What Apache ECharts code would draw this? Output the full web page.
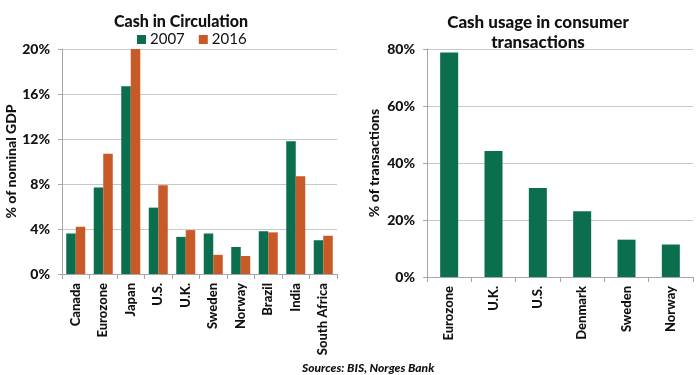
<!DOCTYPE html>
<html>
<head>
<meta charset="utf-8">
<script src="https://cdn.jsdelivr.net/npm/echarts@6/dist/echarts.min.js"></script>
<style>
  html, body { margin: 0; padding: 0; background: #fff; }
  #chart { width: 700px; height: 375px; }
</style>
</head>
<body>
<div id="chart"></div>
<script>
// left panel: cash in circulation, % of nominal GDP
const circCategories = ['Canada', 'Eurozone', 'Japan', 'U.S.', 'U.K.', 'Sweden', 'Norway', 'Brazil', 'India', 'South Africa'];
const circ2007 = [3.6, 7.7, 16.7, 5.9, 3.3, 3.6, 2.4, 3.8, 11.8, 3.0];
const circ2016 = [4.2, 10.7, 20.0, 7.9, 3.9, 1.7, 1.6, 3.7, 8.7, 3.4];
const circTicks = [0, 4, 8, 12, 16, 20];

// right panel: cash share of consumer transactions
const usageCategories = ['Eurozone', 'U.K.', 'U.S.', 'Denmark', 'Sweden', 'Norway'];
const usageValues = [78.8, 44.2, 31.2, 23.1, 13.1, 11.4];
const usageTicks = [0, 20, 40, 60, 80];

const GREEN = '#0b6e4f';
const ORANGE = '#c85a27';
const FONT = 'Lato';
const HEAVY = 900;

const chart = echarts.init(document.getElementById('chart'));

const axisLbl = { color: '#111', fontWeight: HEAVY, fontFamily: FONT };

const option = {
    animation: false,
    textStyle: { fontFamily: FONT },
    title: [
        {
            text: 'Cash in Circulation',
            left: 176, top: 9, textAlign: 'center',
            textStyle: { fontSize: 16, fontWeight: HEAVY, color: '#111', fontFamily: FONT }
        },
        {
            text: 'Cash usage in consumer\ntransactions',
            left: 533, top: 8, textAlign: 'center',
            textStyle: { fontSize: 17, fontWeight: HEAVY, color: '#111', fontFamily: FONT, lineHeight: 20 }
        },
        {
            text: 'Sources: BIS, Norges Bank',
            left: 297, top: 357,
            textStyle: { fontSize: 12, fontWeight: HEAVY, fontStyle: 'italic', color: '#111', fontFamily: FONT }
        }
    ],
    legend: {
        data: ['2007', '2016'],
        left: 132, top: 27,
        icon: 'rect', itemWidth: 9, itemHeight: 9, itemGap: 14,
        textStyle: { fontSize: 15, color: '#111', fontFamily: FONT, padding: [0, 0, 0, -1] }
    },
    grid: [
        { left: 62, right: 363, top: 49, bottom: 101 },
        { left: 427, right: 7, top: 49, bottom: 98 }
    ],
    xAxis: [
        {
            gridIndex: 0, type: 'category', data: circCategories,
            axisLine: { lineStyle: { color: '#a6a6a6' } },
            axisTick: { show: true, length: 5, lineStyle: { color: '#a6a6a6' } },
            axisLabel: Object.assign({ rotate: 90, fontSize: 13, margin: 9, interval: 0 }, axisLbl)
        },
        {
            gridIndex: 1, type: 'category', data: usageCategories,
            axisLine: { lineStyle: { color: '#a6a6a6' } },
            axisTick: { show: true, length: 5, lineStyle: { color: '#a6a6a6' } },
            axisLabel: Object.assign({ rotate: 90, fontSize: 13, margin: 9, interval: 0 }, axisLbl)
        }
    ],
    yAxis: [
        {
            gridIndex: 0, type: 'value', min: 0, max: 20, interval: 4,
            name: '% of nominal GDP', nameLocation: 'middle', nameGap: 40, nameRotate: 90,
            nameTextStyle: { fontSize: 14, fontWeight: HEAVY, color: '#111', fontFamily: FONT },
            axisLine: { show: true, lineStyle: { color: '#a6a6a6' } },
            axisTick: { show: true, length: 4, lineStyle: { color: '#a6a6a6' } },
            splitLine: { lineStyle: { color: '#c8c8c8' } },
            axisLabel: Object.assign({
                fontSize: 14, margin: 12,
                formatter: v => circTicks.includes(v) ? v + '%' : ''
            }, axisLbl)
        },
        {
            gridIndex: 1, type: 'value', min: 0, max: 80, interval: 20,
            name: '% of transactions', nameLocation: 'middle', nameGap: 46, nameRotate: 90,
            nameTextStyle: { fontSize: 14, fontWeight: HEAVY, color: '#111', fontFamily: FONT },
            axisLine: { show: true, lineStyle: { color: '#a6a6a6' } },
            axisTick: { show: true, length: 4, lineStyle: { color: '#a6a6a6' } },
            splitLine: { lineStyle: { color: '#c8c8c8' } },
            axisLabel: Object.assign({
                fontSize: 14, margin: 12,
                formatter: v => usageTicks.includes(v) ? v + '%' : ''
            }, axisLbl)
        }
    ],
    series: [
        {
            name: '2007', type: 'bar', xAxisIndex: 0, yAxisIndex: 0,
            data: circ2007, barWidth: 9.5, barGap: '0%',
            itemStyle: { color: GREEN }
        },
        {
            name: '2016', type: 'bar', xAxisIndex: 0, yAxisIndex: 0,
            data: circ2016, barWidth: 9.5, barGap: '0%',
            itemStyle: { color: ORANGE }
        },
        {
            name: 'usage', type: 'bar', xAxisIndex: 1, yAxisIndex: 1,
            data: usageValues, barWidth: 18,
            itemStyle: { color: GREEN }
        }
    ]
};

chart.setOption(option);
</script>
</body>
</html>
